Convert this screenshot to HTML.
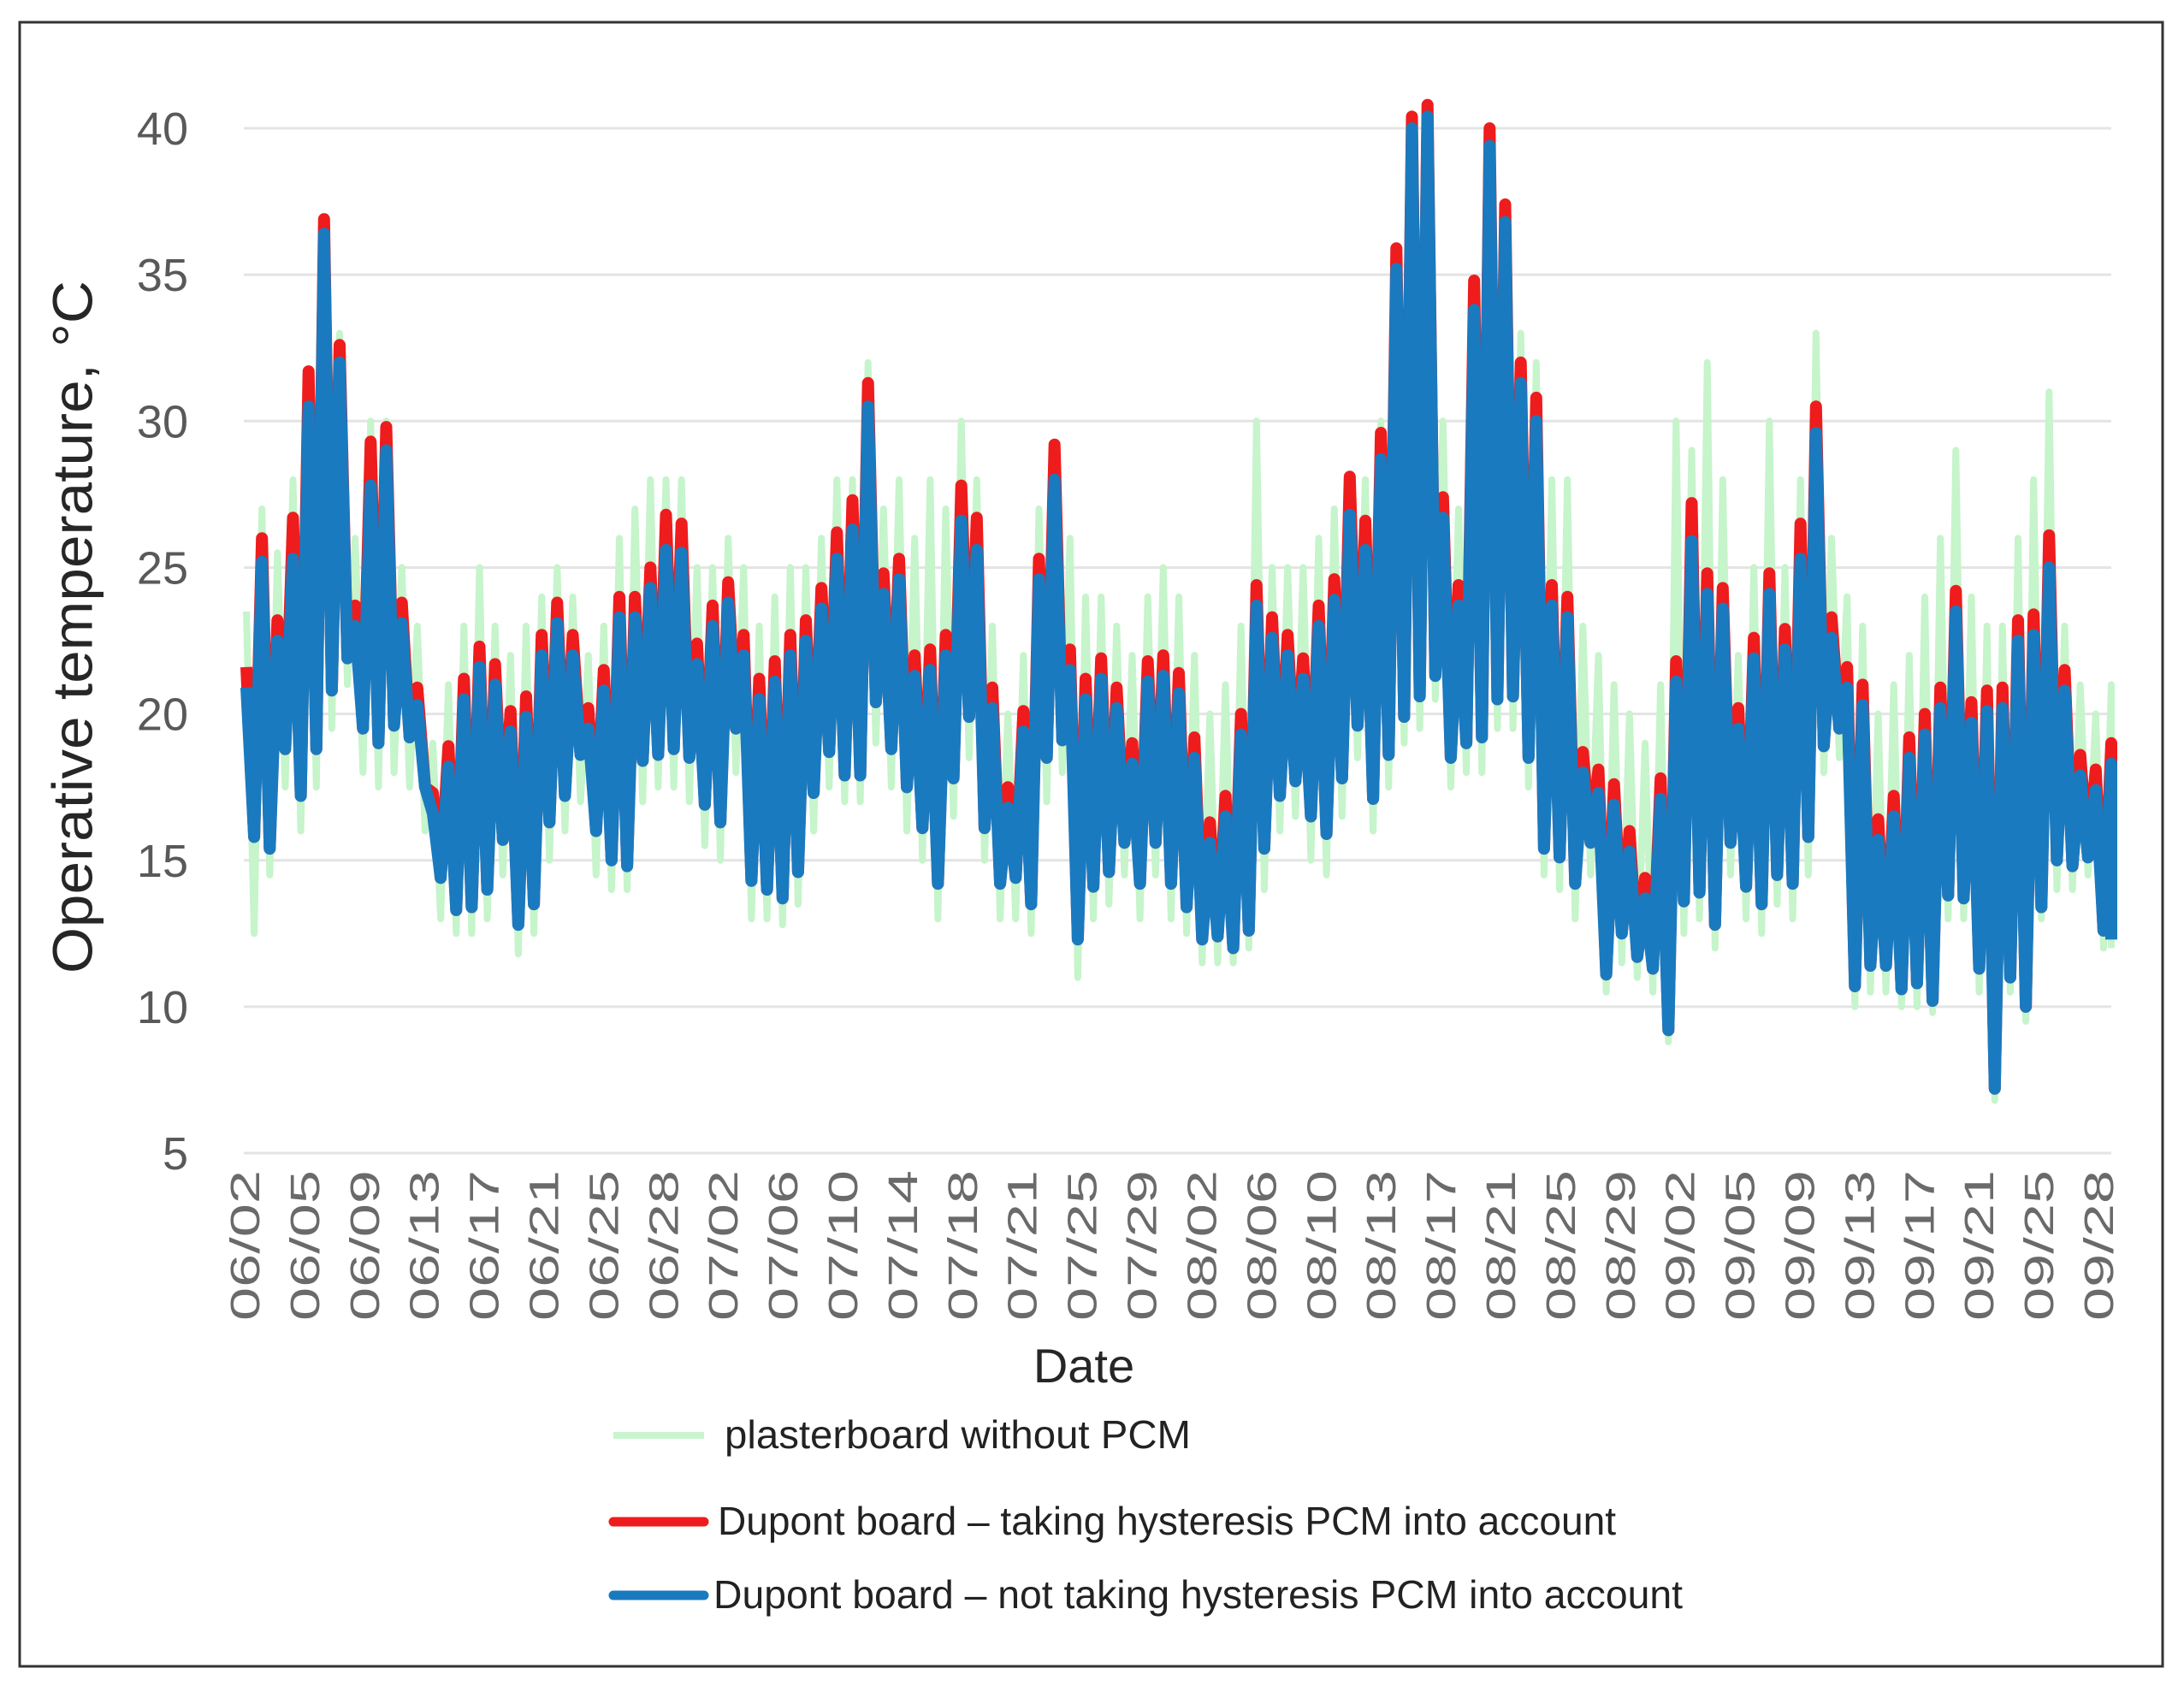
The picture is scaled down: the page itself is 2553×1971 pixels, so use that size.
<!DOCTYPE html>
<html><head><meta charset="utf-8"><style>
html,body{margin:0;padding:0;background:#fff;}
svg{display:block;}
text{font-family:"Liberation Sans",sans-serif;}
</style></head><body>
<svg id="chart" width="2553" height="1971" viewBox="0 0 2553 1971" xmlns="http://www.w3.org/2000/svg">
<rect x="0" y="0" width="2553" height="1971" fill="#fff"/>
<rect x="23" y="26" width="2505" height="1922" fill="none" stroke="#333" stroke-width="3"/>
<g id="grid"></g>
<g id="yticks"></g>
<g id="xticks"></g>
<g id="series"></g>
<text x="90" y="733" transform="rotate(-90 90 733)" text-anchor="middle" dominant-baseline="middle" font-size="66" textLength="810" lengthAdjust="spacingAndGlyphs" fill="#262626">Operative temperature, °C</text>
<text x="1267" y="1616" text-anchor="middle" font-size="56" fill="#262626">Date</text>
<g>
<g>
<line x1="717" y1="1678" x2="823" y2="1678" stroke="#c8f5cf" stroke-width="8"/>
<text x="847" y="1693" font-size="46" textLength="545" lengthAdjust="spacingAndGlyphs" fill="#222">plasterboard without PCM</text>
</g>
<g>
<line x1="717" y1="1779" x2="823" y2="1779" stroke="#ee1c1c" stroke-width="11" stroke-linecap="round"/>
<text x="839" y="1794" font-size="46" textLength="1050" lengthAdjust="spacingAndGlyphs" fill="#222">Dupont board – taking hysteresis PCM into account</text>
</g>
<g>
<line x1="717" y1="1865" x2="823" y2="1865" stroke="#1a7abf" stroke-width="11" stroke-linecap="round"/>
<text x="834" y="1880" font-size="46" textLength="1133" lengthAdjust="spacingAndGlyphs" fill="#222">Dupont board – not taking hysteresis PCM into account</text>
</g>
</g>
</svg>
<script>
const yTicks = [40,35,30,25,20,15,10,5];
const xLabels = ["06/02","06/05","06/09","06/13","06/17","06/21","06/25","06/28","07/02","07/06","07/10","07/14","07/18","07/21","07/25","07/29","08/02","08/06","08/10","08/13","08/17","08/21","08/25","08/29","09/02","09/05","09/09","09/13","09/17","09/21","09/25","09/28"];
const redMax = [21.6,26.0,23.2,26.7,31.7,36.9,32.6,23.7,29.3,29.8,23.8,20.9,17.3,18.9,21.2,22.3,21.7,20.1,20.6,22.7,23.8,22.7,20.2,21.5,24.0,24.0,25.0,26.8,26.5,22.4,
23.7,24.5,22.7,21.2,21.8,22.7,23.2,24.3,26.2,27.3,31.3,24.8,25.3,22.0,22.2,22.7,27.8,26.7,20.9,17.5,20.1,25.3,29.2,22.2,21.2,21.9,20.9,19.0,21.8,22.0,
21.4,19.2,16.3,17.2,20.0,24.4,23.3,22.7,21.9,23.7,24.6,28.1,26.6,29.6,35.9,40.4,40.8,27.4,24.4,34.8,40.0,37.4,32.0,30.8,24.4,24.0,18.7,18.1,17.6,16.0,14.4,
17.8,21.8,27.2,24.8,24.3,20.2,22.6,24.8,22.9,26.5,30.5,23.3,21.6,21.0,16.4,17.2,19.2,20.0,20.9,24.2,20.4,20.8,20.9,23.2,23.4,26.1,21.5,18.6,18.1,19.0];
const blueMax = [20.9,25.2,22.5,25.3,30.5,36.4,32.0,23.0,27.8,29.0,23.1,20.3,16.6,18.2,20.5,21.6,21.0,19.4,19.9,22.0,23.1,22.0,19.5,20.8,23.3,23.3,24.3,25.6,25.5,21.7,
23.0,23.8,22.0,20.5,21.1,22.0,22.5,23.6,25.3,26.3,30.5,24.1,24.6,21.3,21.5,22.0,26.6,25.6,20.2,16.8,19.4,24.6,28.0,21.5,20.5,21.2,20.2,18.3,21.1,21.3,
20.7,18.5,15.6,16.5,19.3,23.7,22.6,22.0,21.2,23.0,23.9,26.8,25.6,28.7,35.2,40.0,40.4,26.7,23.7,33.8,39.4,36.8,31.3,30.0,23.7,23.3,18.0,17.3,16.9,15.3,13.7,
17.1,21.1,25.9,24.1,23.6,19.5,21.9,24.1,22.2,25.3,29.6,22.6,20.9,20.3,15.7,16.5,18.5,19.3,20.2,23.5,19.7,20.1,20.2,22.5,22.7,25.0,20.8,17.9,17.4,18.3];
const dailyMin = [15.8,15.4,18.8,17.2,18.8,20.8,21.9,19.5,19.0,19.6,19.2,17.5,14.4,13.3,13.4,14.0,15.7,12.8,13.5,16.3,17.2,18.6,16.0,15.0,14.8,18.4,18.6,18.8,18.5,16.9,
16.3,19.5,14.3,14.0,13.7,14.6,17.3,18.7,17.9,17.9,20.4,18.8,17.5,16.1,14.2,17.8,19.9,16.1,14.2,14.4,13.5,18.5,19.1,12.3,14.1,14.6,15.6,14.2,15.6,14.2,
13.4,12.3,12.4,12.0,12.6,15.4,17.2,17.7,16.5,15.9,17.8,19.6,17.1,18.6,19.9,20.6,21.3,18.5,19.0,19.2,20.5,20.6,18.5,15.4,15.1,14.2,15.6,11.1,12.5,11.7,
11.3,9.2,13.6,13.9,12.8,15.6,14.1,13.5,14.5,14.2,15.8,18.9,19.5,10.7,11.4,11.4,10.6,10.8,10.2,13.8,13.7,11.3,7.2,11.0,10.0,13.4,15.0,14.8,15.1,12.6,12.3];
const greenMax = [23.5,27,25.5,28,30,35,33,26,30,30,25,23,19,21,23,25,23,22,23,24,25,24,22,23,26,27,28,28,28,25,
25,26,25,23,24,25,25,26,28,28,32,27,28,26,28,27,30,28,23,20,22,27,28,26,24,24,23,22,24,25,
24,22,20,21,23,30,25,25,25,26,27,28,28,30,33,38,40,30,27,34,38,36,33,32,28,28,23,22,21,20,19,
21,30,29,32,28,22,25,30,25,28,33,26,24,23,20,21,22,24,26,29,24,23,23,26,28,31,23,21,20,21];
const greenMin = [12.5,14.5,17.5,16,17.5,19.5,21,18,17.5,18,17.5,16,13,12.5,12.5,13,14.5,11.8,12.5,15,16,17,14.5,14,14,17,17.5,17.5,17,15.5,
15,18,13,13,12.8,13.5,16,17.5,17,17,19,17.5,16,15,13,16.5,18.5,15,13,13,12.5,17,18,11,13,13.5,14.5,13,14.5,13,
12.5,11.5,11.5,11.5,12,14,16,16.5,15,14.5,16.5,18.5,16,17.5,19,19.5,20.5,17.5,18,18,19.5,19.5,17.5,14.5,14,13,14.5,10.5,11.5,11,10.5,
8.8,12.5,13,12,14.5,13,12.5,13.5,13,14.5,18,18.5,10,10.5,10.5,10,10,9.8,13,13,10.5,6.8,10.5,9.5,13,14,14,14.5,12,12];

const NS = "http://www.w3.org/2000/svg";
const PX0 = 285, PX1 = 2468, Y40 = 150, PX_PER_UNIT = 34.23;
const nDays = redMax.length - 1;
function xScale(d){ return 288 + d * (PX1 - 288) / nDays; }
function yScale(v){ return Y40 + (40 - v) * PX_PER_UNIT; }

const grid = document.getElementById('grid');
const yt = document.getElementById('yticks');
yTicks.forEach(function(v){
  const ln = document.createElementNS(NS,'line');
  ln.setAttribute('x1', PX0); ln.setAttribute('x2', PX1);
  ln.setAttribute('y1', yScale(v)); ln.setAttribute('y2', yScale(v));
  ln.setAttribute('stroke', '#e4e4e4'); ln.setAttribute('stroke-width', '3');
  
  
  grid.appendChild(ln);
  const t = document.createElementNS(NS,'text');
  t.setAttribute('x', 220); t.setAttribute('y', yScale(v) + 19);
  t.setAttribute('text-anchor', 'end'); t.setAttribute('font-size', '54');
  t.setAttribute('fill', '#595959');
  t.textContent = v;
  
  
  yt.appendChild(t);
});

const xt = document.getElementById('xticks');
const labelStart = 285, labelEnd = 2452;
xLabels.forEach(function(lab, i){
  const cx = labelStart + i * (labelEnd - labelStart) / (xLabels.length - 1);
  const t = document.createElementNS(NS,'text');
  const bx = cx + 18, by = 1368;
  t.setAttribute('x', bx); t.setAttribute('y', by);
  t.setAttribute('transform', 'rotate(-90 ' + bx + ' ' + by + ')');
  t.setAttribute('text-anchor', 'end'); t.setAttribute('font-size', '48');
  t.setAttribute('textLength', '176'); t.setAttribute('lengthAdjust', 'spacingAndGlyphs');
  t.setAttribute('fill', '#6a6a6a');
  t.textContent = lab;
  
  
  xt.appendChild(t);
});

function buildPath(maxArr, minArr){
  let d = '';
  for (let i = 0; i < maxArr.length; i++){
    d += (i === 0 ? 'M' : 'L') + xScale(i).toFixed(1) + ' ' + yScale(maxArr[i]).toFixed(1);
    const xm = Math.min(xScale(i + 0.5), PX1);
    d += 'L' + xm.toFixed(1) + ' ' + yScale(minArr[i]).toFixed(1);
  }
  return d;
}
const sg = document.getElementById('series');
const g1 = document.createElementNS(NS,'path');
g1.setAttribute('d', buildPath(greenMax, greenMin));
g1.setAttribute('fill', 'none'); g1.setAttribute('stroke', '#c6f4cb');
g1.setAttribute('stroke-width', '8'); g1.setAttribute('stroke-linejoin', 'round');


sg.appendChild(g1);
const r1 = document.createElementNS(NS,'path');
r1.setAttribute('d', buildPath(redMax, dailyMin));
r1.setAttribute('fill', 'none'); r1.setAttribute('stroke', '#ee1c1c');
r1.setAttribute('stroke-width', '14'); r1.setAttribute('stroke-linejoin', 'round');


sg.appendChild(r1);
const b1 = document.createElementNS(NS,'path');
b1.setAttribute('d', buildPath(blueMax, dailyMin));
b1.setAttribute('fill', 'none'); b1.setAttribute('stroke', '#1a7abf');
b1.setAttribute('stroke-width', '14'); b1.setAttribute('stroke-linejoin', 'round');


sg.appendChild(b1);
</script>
</body></html>
